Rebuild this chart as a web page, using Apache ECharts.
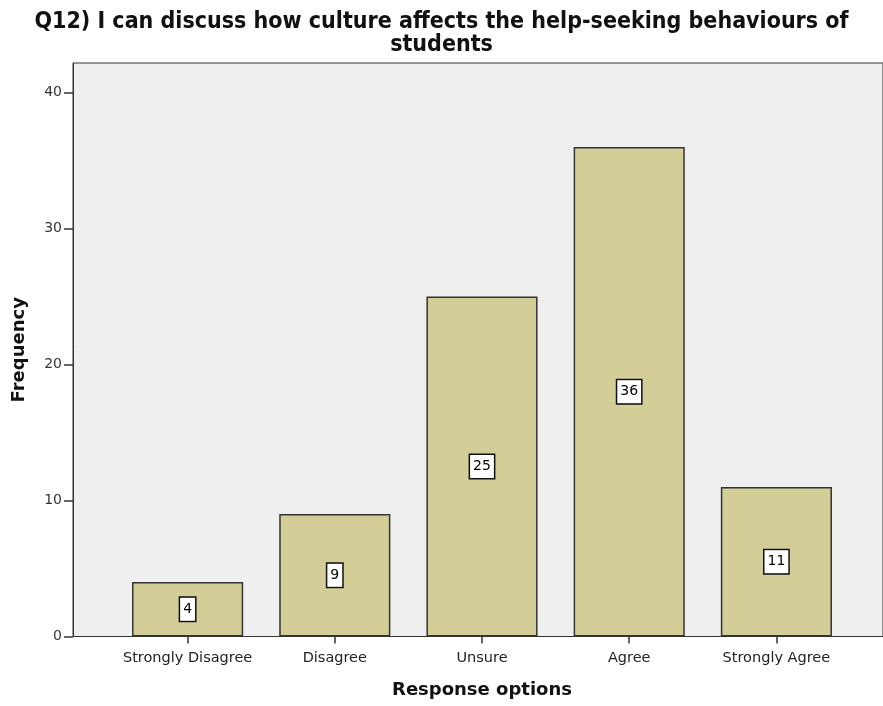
<!DOCTYPE html>
<html>
<head>
<meta charset="utf-8">
<script src="https://cdn.jsdelivr.net/npm/echarts@6/dist/echarts.min.js"></script>
<style>html,body{margin:0;padding:0;background:#fff}#c{width:883px;height:706px}</style>
</head>
<body>
<div id="c"></div>
<script>
// Response categories and counts
const categories = ['Strongly Disagree', 'Disagree', 'Unsure', 'Agree', 'Strongly Agree'];
const frequencies = [4, 9, 25, 36, 11];
const yTicks = [0, 10, 20, 30, 40];

const titleText = 'Q12) I can discuss how culture affects the help-seeking behaviours of\nstudents';
const yMax = 42.17;
const font = 'DejaVu Sans';
const titleFont = 'DejaVu Sans Condensed';

const chart = echarts.init(document.getElementById('c'));
chart.setOption({
  animation: false,
  title: {
    text: titleText,
    left: 'center',
    top: 6,
    textStyle: { fontFamily: titleFont, fontSize: 23, fontWeight: 'bold', color: '#111', lineHeight: 23 }
  },
  grid: [
    { left: 73, top: 63, right: -6, bottom: 69.5, show: true, backgroundColor: '#efefef', borderColor: '#333', borderWidth: 1 },
    { left: 114, top: 63, width: 736, bottom: 69.5 }
  ],
  xAxis: [
    { type: 'value', gridIndex: 0, min: 0, max: 1, show: false },
    {
      type: 'category', gridIndex: 1, data: categories,
      axisLine: { show: false },
      axisTick: { show: true, alignWithLabel: true, length: 7, lineStyle: { color: '#333', width: 1.5 } },
      axisLabel: { fontFamily: font, fontSize: 14.5, color: '#222', margin: 14, interval: 0 },
      name: 'Response options', nameLocation: 'middle', nameGap: 45,
      nameTextStyle: { fontFamily: font, fontSize: 18, fontWeight: 'bold', color: '#111' }
    }
  ],
  yAxis: [
    {
      type: 'value', gridIndex: 0, min: 0, max: yMax, interval: 10,
      axisLine: { show: true, lineStyle: { color: '#333', width: 1 } },
      axisTick: { show: true, length: 9, customValues: yTicks, lineStyle: { color: '#333', width: 1.5 } },
      axisLabel: { fontFamily: font, fontSize: 14, color: '#333', margin: 11, customValues: yTicks },
      splitLine: { show: false },
      name: 'Frequency', nameLocation: 'middle', nameGap: 45,
      nameTextStyle: { fontFamily: font, fontSize: 18, fontWeight: 'bold', color: '#111' }
    },
    { type: 'value', gridIndex: 1, min: 0, max: yMax, show: false }
  ],
  series: [{
    type: 'bar',
    xAxisIndex: 1, yAxisIndex: 1,
    data: frequencies,
    barCategoryGap: '24.5%',
    itemStyle: { color: '#d3ce97', borderColor: '#333', borderWidth: 1.5 },
    label: {
      show: true, position: 'inside',
      fontFamily: font, fontSize: 14, color: '#000',
      backgroundColor: '#fff', borderColor: '#111', borderWidth: 1.5,
      padding: [5, 3, 4, 3]
    }
  }]
});
</script>
</body>
</html>
